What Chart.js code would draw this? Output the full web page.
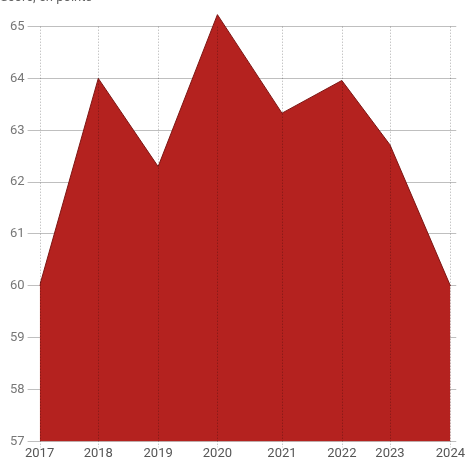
<!DOCTYPE html>
<html>
<head>
<meta charset="utf-8">
<script src="https://cdn.jsdelivr.net/npm/chart.js@4"></script>
<style>
  html, body { margin: 0; padding: 0; background: #fff; overflow: hidden; }
  #wrap { position: relative; width: 466px; height: 463px; }
  #ttl { position: absolute; left: 0px; top: -11px; font: 13px Roboto, sans-serif; color: #666; white-space: nowrap; z-index: 2; }
</style>
</head>
<body>
<div id="wrap">
  <div id="ttl">Score, en points</div>
  <canvas id="c" width="466" height="463"></canvas>
</div>
<script>
// Tick labels for the x axis and the position of each year on the time axis
const years = ['2017', '2018', '2019', '2020', '2021', '2022', '2023', '2024'];
const yearPos = [2017, 2018.0, 2019.02, 2020.03, 2021.13, 2022.15, 2022.97, 2024];
// Score values (points)
const scores = [60.0, 64.0, 62.3, 65.23, 63.33, 63.96, 62.72, 60.0];
// Y-axis tick labels
const yTicks = [57, 58, 59, 60, 61, 62, 63, 64, 65];

const vGrid = {
  id: 'vGrid',
  afterDatasetsDraw(chart) {
    const {ctx, scales: {x, y}} = chart;
    ctx.save();
    ctx.strokeStyle = 'rgba(0,0,0,0.22)';
    ctx.lineWidth = 1;
    ctx.setLineDash([1.5, 1.5]);
    const top = y.getPixelForValue(yTicks[yTicks.length - 1]);
    const bot = y.getPixelForValue(yTicks[0]);
    yearPos.forEach(v => {
      const px = Math.round(x.getPixelForValue(v)) + 0.5;
      ctx.beginPath();
      ctx.moveTo(px, top);
      ctx.lineTo(px, bot + 6);
      ctx.stroke();
    });
    ctx.restore();
  }
};

new Chart(document.getElementById('c'), {
  type: 'line',
  data: {
    datasets: [{
      data: scores.map((s, i) => ({x: yearPos[i], y: s})),
      borderColor: 'rgb(125,22,20)',
      borderWidth: 1,
      backgroundColor: 'rgb(180,34,31)',
      fill: 'start',
      pointRadius: 0,
      tension: 0
    }]
  },
  options: {
    responsive: false,
    animation: false,
    layout: { padding: { left: 7, top: 11, right: 0, bottom: 0 } },
    plugins: { legend: { display: false }, tooltip: { enabled: false } },
    scales: {
      x: {
        type: 'linear',
        min: 2017,
        max: 2024.1,
        afterBuildTicks: s => { s.ticks = yearPos.map(v => ({value: v})); },
        ticks: {
          autoSkip: false,
          maxRotation: 0,
          padding: 1,
          color: '#555',
          font: { family: 'Roboto', size: 13 },
          callback: (v, i) => years[i]
        },
        grid: { display: true, drawOnChartArea: false, drawTicks: true, tickLength: 4, color: 'rgba(0,0,0,0)', tickColor: 'rgba(0,0,0,0)' },
        border: { display: false }
      },
      y: {
        min: 57,
        max: 65.3,
        z: 1,
        afterBuildTicks: s => { s.ticks = yTicks.map(v => ({value: v})); },
        ticks: {
          padding: 3,
          color: '#777',
          font: { family: 'Roboto', size: 13 }
        },
        grid: { color: 'rgba(0,0,0,0.25)', tickLength: 12, lineWidth: 1 },
        border: { display: false }
      }
    }
  },
  plugins: [vGrid]
});
</script>
</body>
</html>
